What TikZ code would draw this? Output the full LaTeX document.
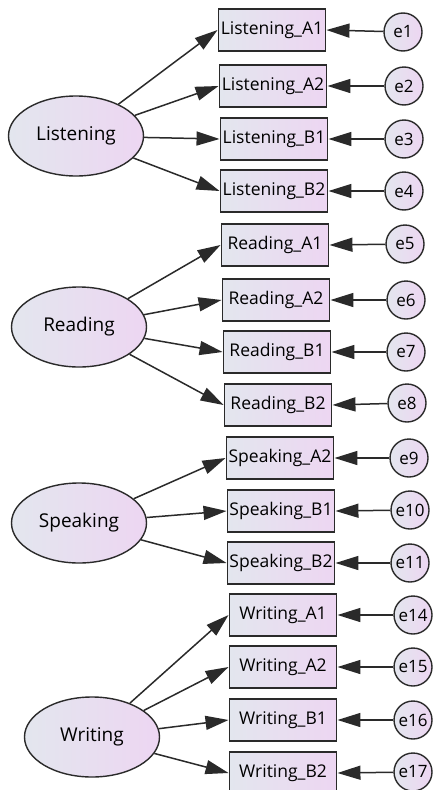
\documentclass[tikz,border=0pt]{standalone}
\usepackage{fontspec}
\setmainfont{Open Sans}
\usetikzlibrary{arrows.meta,shapes.geometric}
\definecolor{fillL}{HTML}{E3E6EE}
\definecolor{fillR}{HTML}{EDD6F2}
\definecolor{edge}{HTML}{2A2A2A}
\tikzset{
  obs/.style={draw=edge, line width=1.9pt, minimum width=107pt, minimum height=42pt,
    inner sep=0pt, left color=fillL, right color=fillR, font=\fontsize{17.5}{17.5}\selectfont},
  latent/.style={ellipse, draw=edge, line width=1.4pt, minimum width=135pt, minimum height=80pt,
    inner sep=0pt, left color=fillL, right color=fillR, font=\fontsize{19}{19}\selectfont},
  err/.style={circle, draw=edge, line width=1.4pt, minimum size=38pt,
    inner sep=0pt, left color=fillL, right color=fillR, font=\fontsize{17}{17}\selectfont},
  loading/.style={-{Triangle[length=23pt,width=14pt]}, line width=1.5pt, draw=edge, fill=edge},
}
\begin{document}
\begin{tikzpicture}[x=1pt,y=-1pt]
\useasboundingbox (0,0) rectangle (433,790);

% latent factors
\node[latent] (L) at (76,136) {Listening};
\node[latent] (R) at (79,327) {Reading};
\node[latent] (S) at (79,523) {Speaking};
\node[latent] (W) at (92,737) {Writing};

% observed indicators
\node[obs] (LA1) at (272,30) {Listening\_A1};
\node[obs] (LA2) at (273,86) {Listening\_A2};
\node[obs] (LB1) at (274,139) {Listening\_B1};
\node[obs] (LB2) at (274,191) {Listening\_B2};
\node[obs] (RA1) at (275,245) {Reading\_A1};
\node[obs] (RA2) at (276,300) {Reading\_A2};
\node[obs] (RB1) at (277,352) {Reading\_B1};
\node[obs] (RB2) at (278,405) {Reading\_B2};
\node[obs] (SA2) at (280,458) {Speaking\_A2};
\node[obs] (SB1) at (281,511) {Speaking\_B1};
\node[obs] (SB2) at (281,563) {Speaking\_B2};
\node[obs] (WA1) at (283,615) {Writing\_A1};
\node[obs] (WA2) at (283,667) {Writing\_A2};
\node[obs] (WB1) at (283,720) {Writing\_B1};
\node[obs] (WB2) at (283,773) {Writing\_B2};

% error terms
\node[err] (e1) at (403,32) {e1};
\node[err] (e2) at (404,86) {e2};
\node[err] (e3) at (404,139) {e3};
\node[err] (e4) at (404,191) {e4};
\node[err] (e5) at (405,244) {e5};
\node[err] (e6) at (406,300) {e6};
\node[err] (e7) at (406,352) {e7};
\node[err] (e8) at (407,403) {e8};
\node[err] (e9) at (409,458) {e9};
\node[err] (e10) at (410,510) {e10};
\node[err] (e11) at (410,563) {e11};
\node[err] (e14) at (413,615) {e14};
\node[err] (e15) at (413,667) {e15};
\node[err] (e16) at (413,720) {e16};
\node[err] (e17) at (413,772) {e17};

% factor loadings
\foreach \f/\items in {L/{LA1,LA2,LB1,LB2}, R/{RA1,RA2,RB1,RB2}, S/{SA2,SB1,SB2}, W/{WA1,WA2,WB1,WB2}}
  \foreach \i in \items
    \draw[loading] (\f) -- (\i.west);

% error paths
\foreach \e/\i in {e1/LA1,e2/LA2,e3/LB1,e4/LB2,e5/RA1,e6/RA2,e7/RB1,e8/RB2,e9/SA2,e10/SB1,e11/SB2,e14/WA1,e15/WA2,e16/WB1,e17/WB2}
  \draw[loading] (\e) -- (\i.east);
\end{tikzpicture}
\end{document}
